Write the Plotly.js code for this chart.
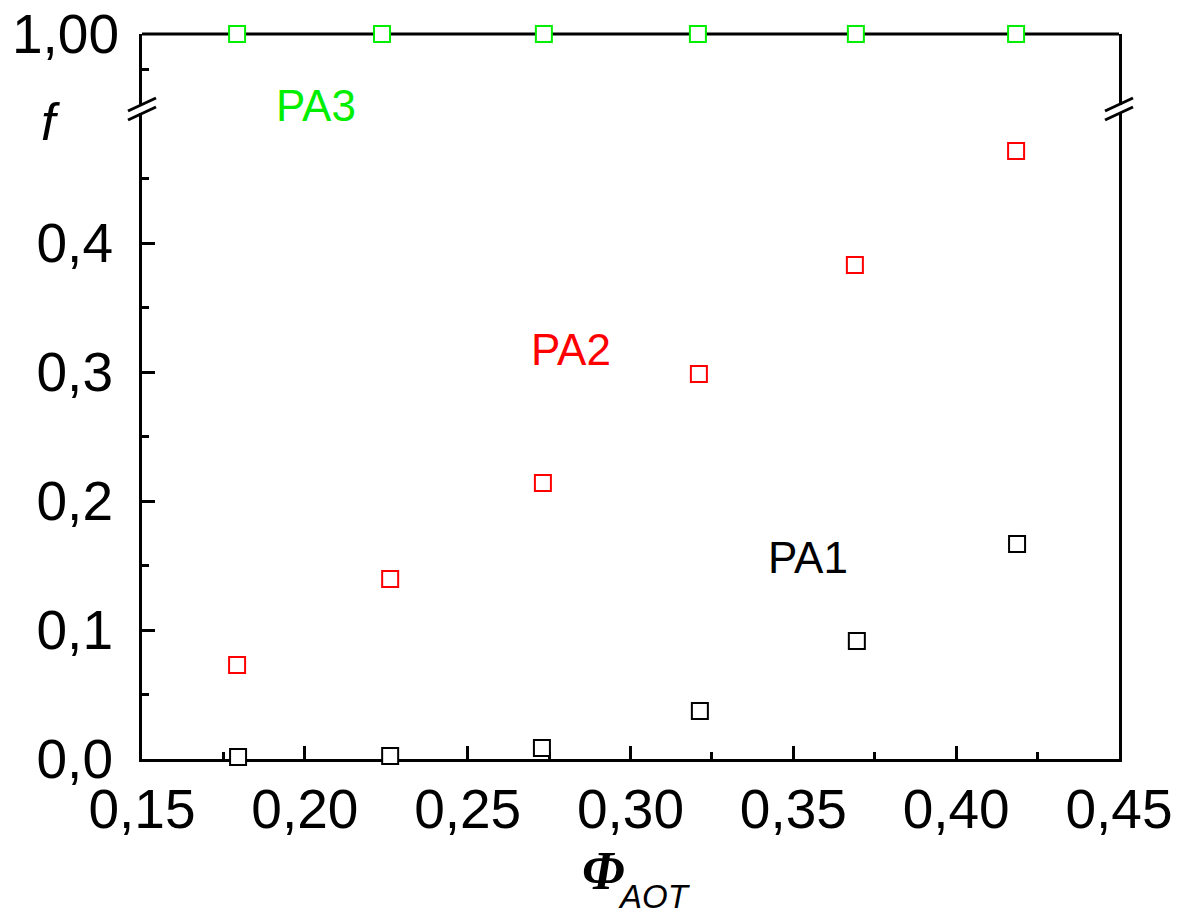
<!DOCTYPE html>
<html>
<head>
<meta charset="utf-8">
<script src="https://cdn.plot.ly/plotly-3.0.1.min.js"></script>
<style>html,body{margin:0;padding:0;background:#fff;}#chart{width:1184px;height:917px;}</style>
</head>
<body>
<div id="chart"></div>
<script>
// ---- data ----
const phiPA1 = [0.1795, 0.2262, 0.2728, 0.3213, 0.3695, 0.4187];
const fPA1   = [0.0016, 0.0023, 0.0085, 0.0372, 0.0915, 0.1667];
const phiPA2 = [0.1792, 0.2262, 0.2731, 0.3210, 0.3689, 0.4184];
const fPA2   = [0.0729, 0.1395, 0.2140, 0.2984, 0.3830, 0.4713];
const phiPA3 = [0.1792, 0.2237, 0.2734, 0.3207, 0.3692, 0.4184];
const fPA3   = [1.00, 1.00, 1.00, 1.00, 1.00, 1.00];

const xTickVals = [0.15, 0.20, 0.25, 0.30, 0.35, 0.40, 0.45];
const xTickText = ['0,15', '0,20', '0,25', '0,30', '0,35', '0,40', '0,45'];
const xMinorVals = [0.175, 0.225, 0.275, 0.325, 0.375, 0.425];
const yTickVals = [0.0, 0.1, 0.2, 0.3, 0.4];
const yTickText = ['0,0', '0,1', '0,2', '0,3', '0,4'];
const yMinorVals = [0.05, 0.15, 0.25, 0.35, 0.45];
const y2TickVals = [1.00];
const y2TickText = ['1,00'];
const y2MinorVals = [0.99];

// ---- layout geometry ----
const W = 1184, H = 917;
const mL = 142, mR = 65, mT = 34, mB = 158;
const pw = W - mL - mR, ph = H - mT - mB;
const px = p => (p - mL) / pw;          // pixel x -> paper
const py = p => (H - mB - p) / ph;      // pixel y -> paper

const FONT = 'Liberation Sans, Arial, sans-serif';
const lowerTopPx = 113, upperBotPx = 105;

function mk(x, y, color, yaxis) {
  return {
    x: x, y: y, yaxis: yaxis, type: 'scatter', mode: 'markers', cliponaxis: false,
    marker: {symbol: 'square', size: 16, color: '#ffffff', line: {color: color, width: 2}},
    hoverinfo: 'x+y', showlegend: false
  };
}

const traces = [
  mk(phiPA1, fPA1, '#000000', 'y'),
  mk(phiPA2, fPA2, '#ff0000', 'y'),
  mk(phiPA3, fPA3, '#00ee00', 'y2')
];

const axisCommon = {
  showline: true, linecolor: '#000', linewidth: 3, showgrid: false, zeroline: false,
  ticks: 'inside', tickcolor: '#000', tickwidth: 3, ticklen: 13,
  tickfont: {family: FONT, size: 55, color: '#000'}, layer: 'below traces'
};

const breakShapes = [];
[mL, mL + pw].forEach(cx => {
  [[111, 98], [120, 107]].forEach(([ya, yb]) => {
    breakShapes.push({type: 'line', xref: 'paper', yref: 'paper', layer: 'above',
      x0: px(cx - 14), y0: py(ya), x1: px(cx + 14), y1: py(yb),
      line: {color: '#000', width: 3}});
  });
});

function ann(text, x, y, font) {
  return {text: text, xref: 'paper', yref: 'paper', x: px(x), y: py(y), showarrow: false,
          xanchor: 'center', yanchor: 'middle', borderpad: 0, font: font};
}

const layout = {
  width: W, height: H,
  margin: {l: mL, r: mR, t: mT, b: mB},
  paper_bgcolor: '#fff', plot_bgcolor: '#fff',
  showlegend: false,
  xaxis: Object.assign({}, axisCommon, {
    range: [0.15, 0.45], tickmode: 'array', tickvals: xTickVals, ticktext: xTickText,
    anchor: 'y', ticklabelstandoff: 0,
    minor: {tickmode: 'array', tickvals: xMinorVals, ticks: 'inside', ticklen: 7, tickwidth: 3, tickcolor: '#000'}
  }),
  yaxis: Object.assign({}, axisCommon, {
    domain: [0, py(lowerTopPx)], range: [0, (H - mB - lowerTopPx) / 1290],
    tickmode: 'array', tickvals: yTickVals, ticktext: yTickText, mirror: true,
    ticklabelstandoff: 15,
    minor: {tickmode: 'array', tickvals: yMinorVals, ticks: 'inside', ticklen: 7, tickwidth: 3, tickcolor: '#000'}
  }),
  yaxis2: Object.assign({}, axisCommon, {
    domain: [py(upperBotPx), 1], range: [0.98, 1.00], anchor: 'x',
    tickmode: 'array', tickvals: y2TickVals, ticktext: y2TickText, mirror: true,
    ticklabelstandoff: 9,
    minor: {tickmode: 'array', tickvals: y2MinorVals, ticks: 'inside', ticklen: 7, tickwidth: 3, tickcolor: '#000'}
  }),
  shapes: [
    {type: 'line', xref: 'paper', yref: 'paper', layer: 'below', x0: 0, x1: 1, y0: 1, y1: 1,
     line: {color: '#000', width: 3}}
  ].concat(breakShapes),
  annotations: [
    ann('PA3', 316, 106, {family: FONT, size: 44, color: '#00ee00'}),
    ann('PA2', 571, 349, {family: FONT, size: 44, color: '#ff0000'}),
    ann('PA1', 808, 557, {family: FONT, size: 44, color: '#000000'}),
    ann('<i>f</i>', 50, 122, {family: FONT, size: 52, color: '#000'}),
    ann('<b><i>Φ</i></b>', 603, 871, {family: 'Liberation Serif, Times New Roman, serif', size: 54, color: '#000'}),
    ann('<i>AOT</i>', 654, 896, {family: FONT, size: 33, color: '#000'})
  ]
};

Plotly.newPlot('chart', traces, layout, {staticPlot: true, displayModeBar: false});
</script>
</body>
</html>
